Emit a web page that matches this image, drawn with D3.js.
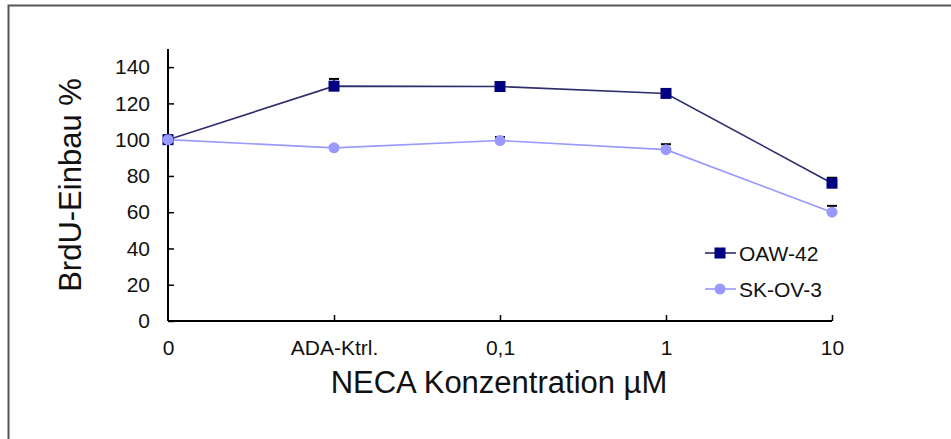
<!DOCTYPE html>
<html>
<head>
<meta charset="utf-8">
<script src="https://cdn.jsdelivr.net/npm/d3@7"></script>
<style>
  body { margin: 0; background: #fff; }
  text { font-family: "Liberation Sans", Arial, sans-serif; fill: #111; }
</style>
</head>
<body>
<svg id="chart" width="951" height="439"></svg>
<script>
// data
const categories = ['0', 'ADA-Ktrl.', '0,1', '1', '10'];
const oawValues = [100, 129.5, 129.3, 125.5, 76];
const oawErrors = [1, 4, 1.5, 1.5, 3];
const skovValues = [100, 95.5, 99.5, 94.5, 60];
const skovErrors = [1, 1, 2, 3, 3.5];
const yTicks = [0, 20, 40, 60, 80, 100, 120, 140];

const series = [
  {name: 'OAW-42', values: oawValues, errors: oawErrors, color: '#000080', line: '#2e2e6e', shape: 'square'},
  {name: 'SK-OV-3', values: skovValues, errors: skovErrors, color: '#9999ff', line: '#9999ff', shape: 'circle'}
];

const svg = d3.select('#chart');

// outer frame (only top and left edges visible)
svg.append('path')
  .attr('d', 'M8.5,439 L8.5,5.5 L951,5.5')
  .attr('fill', 'none')
  .attr('stroke', '#555')
  .attr('stroke-width', 2);

// scales
const x = d3.scalePoint()
  .domain(categories)
  .range([168, 832]);

const y = d3.scaleLinear()
  .domain([0, 150])
  .range([321, 49]);

// y axis
const yAxis = svg.append('g')
  .attr('transform', 'translate(168,0)')
  .call(d3.axisRight(y).tickValues(yTicks).tickSize(6).tickFormat(d3.format('d')));
yAxis.select('.domain').attr('stroke', '#000').attr('stroke-width', 2).attr('d', 'M0,' + y(150) + 'V' + y(0));
yAxis.selectAll('.tick line').attr('stroke', '#000').attr('stroke-width', 1.5);
yAxis.selectAll('.tick text')
  .attr('x', -18)
  .attr('text-anchor', 'end')
  .style('font-size', '21px')
  .style('font-family', '"Liberation Sans", Arial, sans-serif')
  .attr('fill', '#111');

// x axis
const xAxis = svg.append('g')
  .attr('transform', 'translate(0,321)')
  .call(d3.axisTop(x).tickSize(6));
xAxis.select('.domain').attr('stroke', '#000').attr('stroke-width', 2).attr('d', 'M168,0H832');
xAxis.selectAll('.tick line')
  .attr('stroke', '#000').attr('stroke-width', 1.5)
  .attr('display', (d, i) => i === 0 ? 'none' : null);
xAxis.selectAll('.tick text')
  .attr('y', 34)
  .style('font-size', '21px')
  .style('font-family', '"Liberation Sans", Arial, sans-serif')
  .attr('fill', '#111');

// axis titles
svg.append('text')
  .attr('transform', 'translate(81,185) rotate(-90)')
  .attr('text-anchor', 'middle')
  .style('font-size', '31px')
  .text('BrdU-Einbau %');

svg.append('text')
  .attr('x', 499)
  .attr('y', 393)
  .attr('text-anchor', 'middle')
  .style('font-size', '31px')
  .text('NECA Konzentration µM');

// lines
const line = d3.line()
  .x((d, i) => x(categories[i]))
  .y(d => y(d));

series.slice().reverse().forEach(s => {
  svg.append('path')
    .datum(s.values)
    .attr('fill', 'none')
    .attr('stroke', s.line)
    .attr('stroke-width', 1.6)
    .attr('d', line);
});

// error bars (plus direction only)
series.forEach(s => {
  const g = svg.append('g');
  s.values.forEach((v, i) => {
    const cx = x(categories[i]);
    const top = y(v + s.errors[i]);
    g.append('line')
      .attr('x1', cx).attr('x2', cx)
      .attr('y1', top).attr('y2', y(v))
      .attr('stroke', '#000').attr('stroke-width', 1.5);
    g.append('line')
      .attr('x1', cx - 5).attr('x2', cx + 5)
      .attr('y1', top).attr('y2', top)
      .attr('stroke', '#000').attr('stroke-width', 2);
  });
});

// markers
function drawMarker(g, s, cx, cy) {
  if (s.shape === 'square') {
    g.append('rect')
      .attr('x', cx - 5.5).attr('y', cy - 5.5)
      .attr('width', 11).attr('height', 11)
      .attr('fill', s.color);
  } else {
    g.append('circle')
      .attr('cx', cx).attr('cy', cy).attr('r', 5.5)
      .attr('fill', s.color);
  }
}

series.forEach(s => {
  const g = svg.append('g');
  s.values.forEach((v, i) => drawMarker(g, s, x(categories[i]), y(v)));
});

// legend
const legend = svg.append('g');
series.forEach((s, i) => {
  const ly = 253 + i * 36;
  legend.append('line')
    .attr('x1', 705).attr('x2', 736)
    .attr('y1', ly).attr('y2', ly)
    .attr('stroke', s.line).attr('stroke-width', 1.6);
  drawMarker(legend, s, 720, ly);
  legend.append('text')
    .attr('x', 739)
    .attr('y', ly + 7.5)
    .style('font-size', '21px')
    .text(s.name);
});
</script>
</body>
</html>
